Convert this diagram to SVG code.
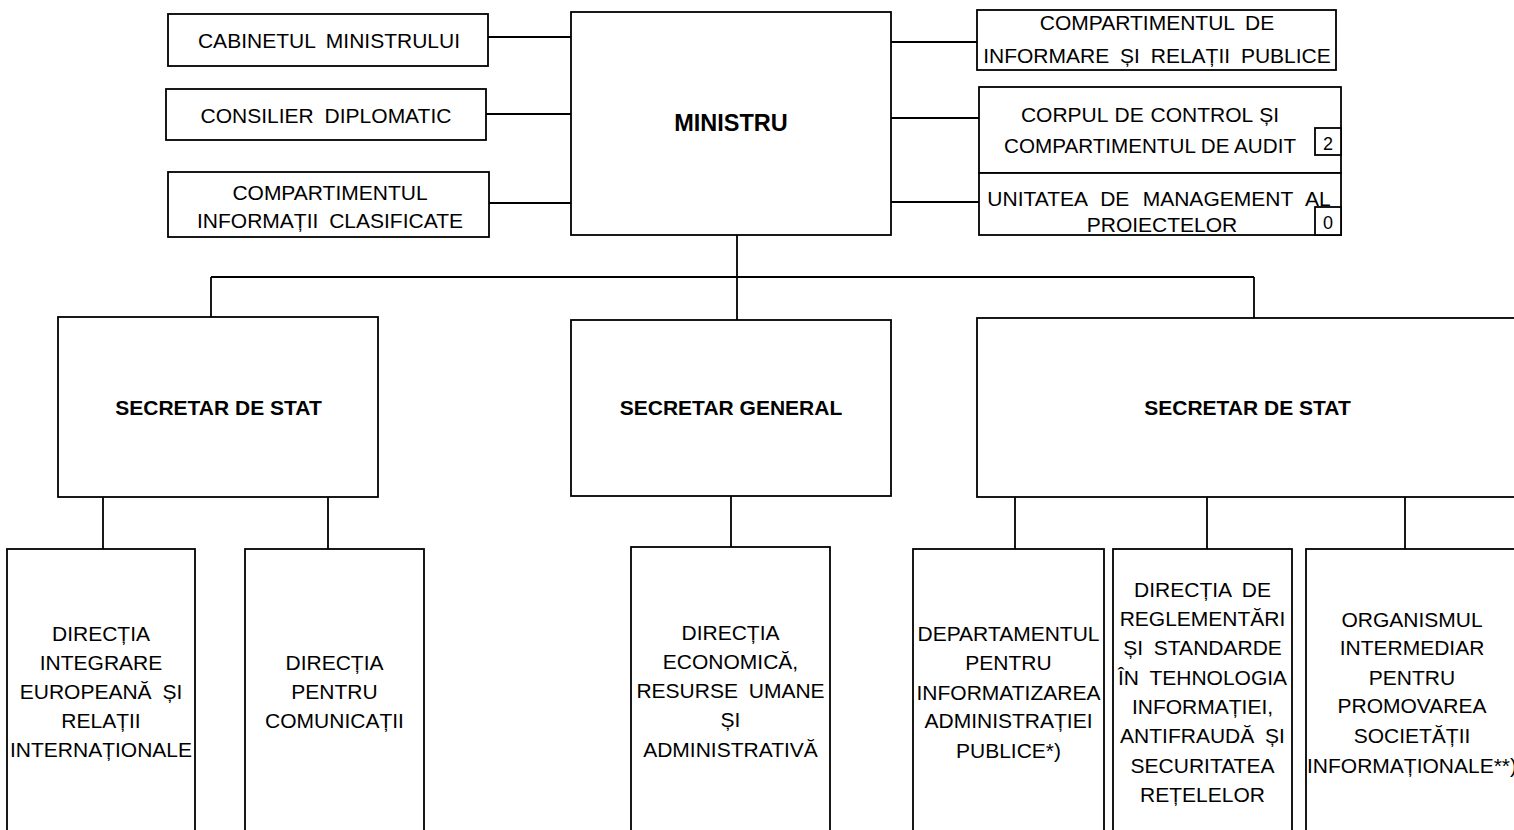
<svg xmlns="http://www.w3.org/2000/svg" width="1514" height="830" viewBox="0 0 1514 830">
<style>
.box{fill:#fff;stroke:#000;stroke-width:1.8}
.ln{fill:none;stroke:#000;stroke-width:1.8}
.t{font-family:"Liberation Sans",Arial,sans-serif;font-size:21px;fill:#000;text-anchor:middle;word-spacing:5px}
.b{font-family:"Liberation Sans",Arial,sans-serif;font-size:21px;font-weight:bold;fill:#000;text-anchor:middle}
.s{font-family:"Liberation Sans",Arial,sans-serif;font-size:18px;fill:#000;text-anchor:middle}
</style>
<rect width="1514" height="830" fill="#fff"/>
<g id="connectors">
<path class="ln" d="M488 37H571M486 114H571M489 203H571"/>
<path class="ln" d="M891 42H977M891 118H979M891 202H979"/>
<path class="ln" d="M737 235V277M211 277H1254M211 277V317M737 277V320M1254 277V318"/>
<path class="ln" d="M103 497V549M328 497V549M731 496V547M1015 497V549M1207 497V549M1405 497V549"/>
</g>
<g id="cabinet"><rect class="box" x="168" y="14" width="320" height="52"/><text class="t" x="329" y="48">CABINETUL MINISTRULUI</text></g>
<g id="consilier"><rect class="box" x="166" y="89" width="320" height="51"/><text class="t" x="326" y="123">CONSILIER DIPLOMATIC</text></g>
<g id="info-clasificate"><rect class="box" x="168" y="172" width="321" height="65"/><text class="t" x="330" y="200">COMPARTIMENTUL</text><text class="t" x="330" y="228">INFORMAȚII CLASIFICATE</text></g>
<g id="ministru"><rect class="box" x="571" y="12" width="320" height="223"/><text class="b" x="731" y="131" style="font-size:23.5px">MINISTRU</text></g>
<g id="relatii-publice"><rect class="box" x="977" y="10" width="359" height="60"/><text class="t" x="1157" y="30">COMPARTIMENTUL DE</text><text class="t" x="1157" y="63">INFORMARE ȘI RELAȚII PUBLICE</text></g>
<g id="control-audit"><rect class="box" x="979" y="87" width="362" height="86"/><text class="t" x="1150" y="122" style="word-spacing:1px">CORPUL DE CONTROL ȘI</text><text class="t" x="1150" y="153" style="word-spacing:0" textLength="292" lengthAdjust="spacingAndGlyphs">COMPARTIMENTUL DE AUDIT</text><rect class="box" x="1315" y="128" width="26" height="27"/><text class="s" x="1328" y="150">2</text></g>
<g id="ump"><rect class="box" x="979" y="173" width="362" height="62"/><text class="t" x="1159" y="206" style="word-spacing:7.5px">UNITATEA DE MANAGEMENT AL</text><text class="t" x="1162" y="232">PROIECTELOR</text><rect class="box" x="1315" y="207" width="26" height="28"/><text class="s" x="1328" y="229">0</text></g>
<g id="secretar-stat-1"><rect class="box" x="58" y="317" width="320" height="180"/><text class="b" x="218.5" y="415">SECRETAR DE STAT</text></g>
<g id="secretar-general"><rect class="box" x="571" y="320" width="320" height="176"/><text class="b" x="731" y="415">SECRETAR GENERAL</text></g>
<g id="secretar-stat-2"><rect class="box" x="977" y="318" width="545" height="179"/><text class="b" x="1247.5" y="415">SECRETAR DE STAT</text></g>
<g id="dir-integrare"><rect class="box" x="7" y="549" width="188" height="290"/><text class="t" x="101" y="641">DIRECȚIA</text><text class="t" x="101" y="670">INTEGRARE</text><text class="t" x="101" y="699">EUROPEANĂ ȘI</text><text class="t" x="101" y="728">RELAȚII</text><text class="t" x="101" y="757">INTERNAȚIONALE</text></g>
<g id="dir-comunicatii"><rect class="box" x="245" y="549" width="179" height="290"/><text class="t" x="334.5" y="670">DIRECȚIA</text><text class="t" x="334.5" y="699">PENTRU</text><text class="t" x="334.5" y="728">COMUNICAȚII</text></g>
<g id="dir-economica"><rect class="box" x="631" y="547" width="199" height="292"/><text class="t" x="730.5" y="640">DIRECȚIA</text><text class="t" x="730.5" y="669">ECONOMICĂ,</text><text class="t" x="730.5" y="698">RESURSE UMANE</text><text class="t" x="730.5" y="727">ȘI</text><text class="t" x="730.5" y="757">ADMINISTRATIVĂ</text></g>
<g id="departament"><rect class="box" x="913" y="549" width="191" height="290"/><text class="t" x="1008.5" y="641">DEPARTAMENTUL</text><text class="t" x="1008.5" y="670">PENTRU</text><text class="t" x="1008.5" y="700">INFORMATIZAREA</text><text class="t" x="1008.5" y="728">ADMINISTRAȚIEI</text><text class="t" x="1008.5" y="758">PUBLICE*)</text></g>
<g id="dir-reglementari"><rect class="box" x="1113" y="549" width="179" height="290"/><text class="t" x="1202.5" y="597">DIRECȚIA DE</text><text class="t" x="1202.5" y="626">REGLEMENTĂRI</text><text class="t" x="1202.5" y="655">ȘI STANDARDE</text><text class="t" x="1202.5" y="685">ÎN TEHNOLOGIA</text><text class="t" x="1202.5" y="714">INFORMAȚIEI,</text><text class="t" x="1202.5" y="743">ANTIFRAUDĂ ȘI</text><text class="t" x="1202.5" y="773">SECURITATEA</text><text class="t" x="1202.5" y="802">REȚELELOR</text></g>
<g id="organism"><rect class="box" x="1306" y="549" width="216" height="290"/><text class="t" x="1412" y="627">ORGANISMUL</text><text class="t" x="1412" y="655">INTERMEDIAR</text><text class="t" x="1412" y="685">PENTRU</text><text class="t" x="1412" y="713">PROMOVAREA</text><text class="t" x="1412" y="743">SOCIETĂȚII</text><text class="t" x="1412" y="773">INFORMAȚIONALE**)</text></g>
</svg>
